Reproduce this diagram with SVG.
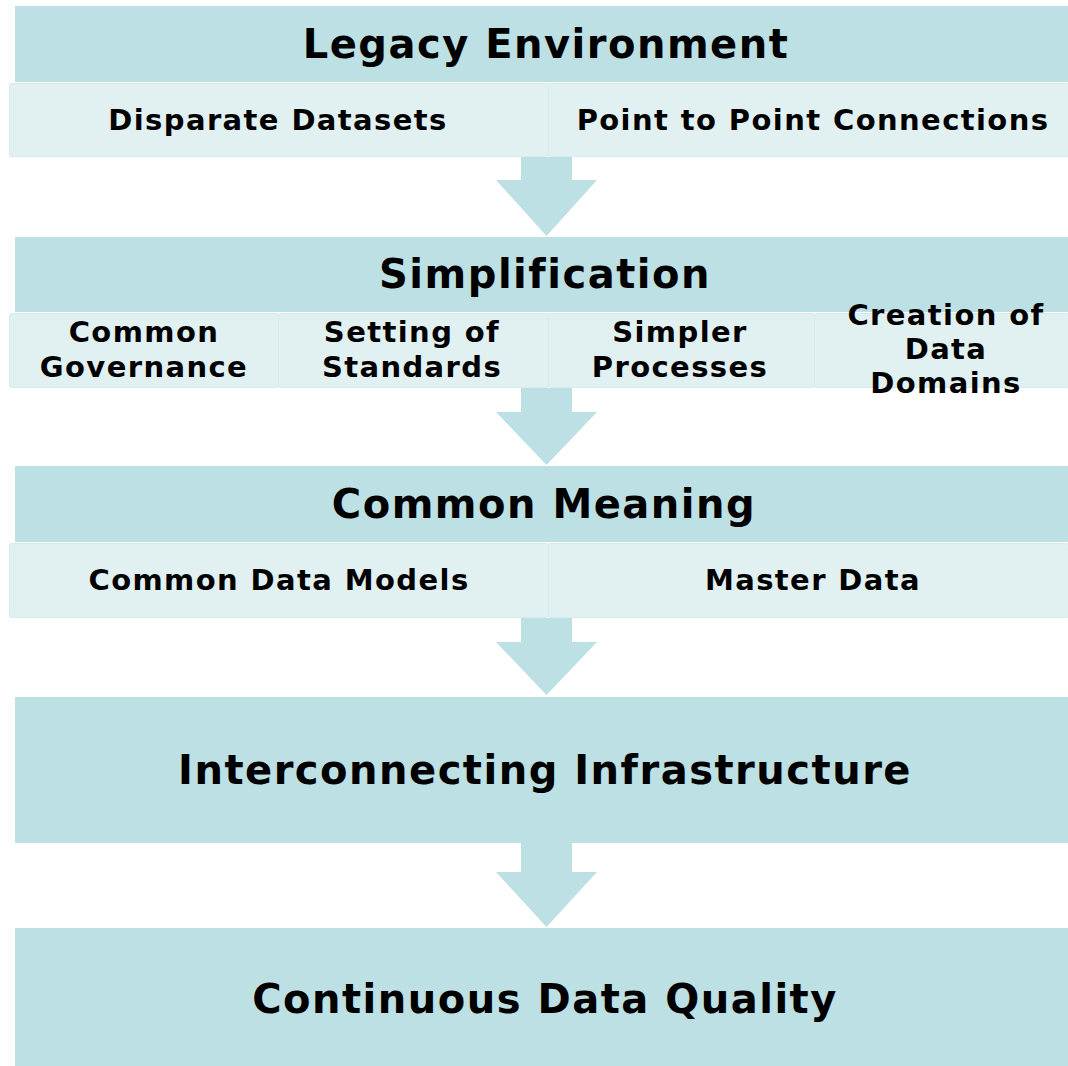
<svg xmlns="http://www.w3.org/2000/svg" width="1068" height="1066" viewBox="0 0 1068 1066">
<style>
.hdr{fill:#BCE0E3}
.sub{fill:#E1F0F1;stroke:#D6EBEC;stroke-width:1}
.arr{fill:#BCE0E3}
.t1{font-family:"DejaVu Sans",Verdana,sans-serif;font-weight:bold;font-size:40px;letter-spacing:1.5px;fill:#000;text-anchor:middle}
.t2{font-family:"DejaVu Sans",Verdana,sans-serif;font-weight:bold;font-size:29px;letter-spacing:1.4px;fill:#000;text-anchor:middle}
</style>
<rect width="1068" height="1066" fill="#fff"/>
<g id="connectors">
<path class="arr" d="M521 157H572V180H597L546.5 236L496 180H521Z"/>
<path class="arr" d="M521 388H572V412H597L546.5 465L496 412H521Z"/>
<path class="arr" d="M521 618H572V642H597L546.5 695L496 642H521Z"/>
<path class="arr" d="M521 843H572V872H597L546.5 927L496 872H521Z"/>
</g>
<g id="legacy">
<rect class="hdr" x="15" y="6" width="1053" height="76"/>
<text class="t1" x="546" y="58">Legacy Environment</text>
</g>
<g id="legacy-sub">
<rect class="sub" x="9.5" y="83.5" width="539" height="73" rx="2"/>
<rect class="sub" x="548.5" y="83.5" width="520" height="73" rx="2"/>
<text class="t2" x="278" y="130">Disparate Datasets</text>
<text class="t2" x="813" y="130">Point to Point Connections</text>
</g>
<g id="simplification">
<rect class="hdr" x="15" y="237" width="1053" height="75"/>
<text class="t1" x="545" y="288">Simplification</text>
</g>
<g id="simplification-sub">
<rect class="sub" x="9.5" y="313.5" width="269" height="74" rx="2"/>
<rect class="sub" x="278.5" y="313.5" width="270" height="74" rx="2"/>
<rect class="sub" x="548.5" y="313.5" width="266" height="74" rx="2"/>
<rect class="sub" x="814.5" y="313.5" width="254" height="74" rx="2"/>
<text class="t2" x="144" y="342">Common</text>
<text class="t2" x="144" y="377">Governance</text>
<text class="t2" x="412" y="342">Setting of</text>
<text class="t2" x="412" y="377">Standards</text>
<text class="t2" x="680" y="342">Simpler</text>
<text class="t2" x="680" y="377">Processes</text>
<text class="t2" x="946" y="325">Creation of</text>
<text class="t2" x="946" y="359">Data</text>
<text class="t2" x="946" y="393">Domains</text>
</g>
<g id="common-meaning">
<rect class="hdr" x="15" y="466" width="1053" height="76"/>
<text class="t1" x="544" y="518">Common Meaning</text>
</g>
<g id="common-meaning-sub">
<rect class="sub" x="9.5" y="543.5" width="539" height="74" rx="2"/>
<rect class="sub" x="548.5" y="543.5" width="520" height="74" rx="2"/>
<text class="t2" x="279" y="590">Common Data Models</text>
<text class="t2" x="813" y="590">Master Data</text>
</g>
<g id="interconnecting">
<rect class="hdr" x="15" y="697" width="1053" height="146"/>
<text class="t1" x="545" y="784">Interconnecting Infrastructure</text>
</g>
<g id="continuous">
<rect class="hdr" x="15" y="928" width="1053" height="138"/>
<text class="t1" x="545" y="1013">Continuous Data Quality</text>
</g>
</svg>
